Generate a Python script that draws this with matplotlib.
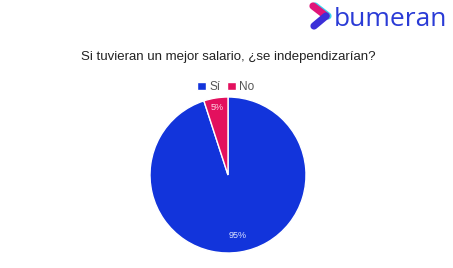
import matplotlib
matplotlib.use("Agg")
import matplotlib.pyplot as plt
import numpy as np
from matplotlib.lines import Line2D

categories = ["Sí", "No"]
values = [95, 5]
colors = ["#1234DB", "#E3105E"]

plt.rcParams['font.family'] = ['Liberation Sans', 'DejaVu Sans']

fig = plt.figure(figsize=(4.53, 2.68), dpi=100)
fig.patch.set_facecolor("white")

W, H = 453, 268
cx, cy, r = 228, 175, 78
ax = fig.add_axes([(cx - r) / W, 1 - (cy + r) / H, 2 * r / W, 2 * r / H])
wedges, texts, autotexts = ax.pie(
    values, colors=colors, startangle=90, counterclock=False,
    autopct=lambda p: f"{p:.0f}%", pctdistance=0.79,
    wedgeprops=dict(edgecolor="white", linewidth=1.0),
    textprops=dict(color="#DDE3FF", fontsize=6.5))
autotexts[1].set_color("#FFD6E4")
w = wedges[1]
mid = np.deg2rad((w.theta1 + w.theta2) / 2)
autotexts[1].set_position((0.87 * np.cos(mid), 0.87 * np.sin(mid)))
ax.set_xlim(-1, 1)
ax.set_ylim(-1, 1)
ax.set_aspect("equal")

fig.text(228 / W, 1 - 57 / H, "Si tuvieran un mejor salario, ¿se independizarían?",
         ha="center", va="center", fontsize=9.5, color="#222222")

leg = fig.legend(wedges, categories, loc="center", bbox_to_anchor=(226 / W, 1 - 87 / H),
                 ncol=2, frameon=False, fontsize=8.5, handlelength=0.7, handleheight=0.7,
                 handletextpad=0.3, columnspacing=0.6, labelcolor="#555555")

def fx(x):
    return x / W
def fy(y):
    return 1 - y / H

fig.text(334 / W, 1 - 19.5 / H, "bumeran", ha="left", va="center",
         fontsize=19, color="#2A3BD6", family=["Open Sans", "DejaVu Sans"])
lw = 5.2
fig.add_artist(Line2D([fx(315), fx(328)], [fy(6), fy(16)], transform=fig.transFigure,
                      color="#36D3F0", lw=lw, solid_capstyle="round"))
fig.add_artist(Line2D([fx(313), fx(326)], [fy(6), fy(16)], transform=fig.transFigure,
                      color="#E0157A", lw=lw, solid_capstyle="round"))
fig.add_artist(Line2D([fx(326), fx(314)], [fy(16), fy(26)], transform=fig.transFigure,
                      color="#3B2FD8", lw=lw, solid_capstyle="round"))

fig.savefig("out.png", dpi=100)
